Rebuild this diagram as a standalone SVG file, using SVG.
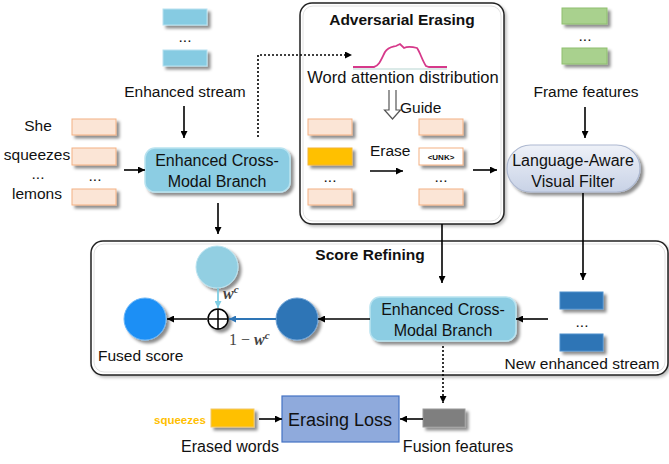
<svg xmlns="http://www.w3.org/2000/svg" width="669" height="464" viewBox="0 0 669 464">
<defs>
<filter id="sh" x="-30%" y="-30%" width="160%" height="170%">
<feDropShadow dx="3" dy="3" stdDeviation="1.4" flood-color="#000" flood-opacity="0.45"/>
</filter>
<filter id="shl" x="-10%" y="-10%" width="120%" height="120%">
<feDropShadow dx="2" dy="2" stdDeviation="1.5" flood-color="#000" flood-opacity="0.25"/>
</filter>
<linearGradient id="pill" x1="0" y1="0" x2="0" y2="1">
<stop offset="0" stop-color="#eef1f8"/>
<stop offset="1" stop-color="#c8d2e6"/>
</linearGradient>
<marker id="ah" viewBox="0 0 10 10" refX="10" refY="5" markerWidth="7" markerHeight="7" markerUnits="userSpaceOnUse" orient="auto">
<path d="M0,0 L10,5 L0,10 z" fill="#000"/>
</marker>
<marker id="ahb" viewBox="0 0 10 10" refX="10" refY="5" markerWidth="7" markerHeight="7" markerUnits="userSpaceOnUse" orient="auto">
<path d="M0,0 L10,5 L0,10 z" fill="#2e75b6"/>
</marker>
<marker id="ahl" viewBox="0 0 10 10" refX="10" refY="5" markerWidth="7" markerHeight="7" markerUnits="userSpaceOnUse" orient="auto">
<path d="M0,0 L10,5 L0,10 z" fill="#7fcde3"/>
</marker>
</defs>
<style>
text{font-family:"Liberation Sans",Arial,sans-serif;fill:#111;}
.t{font-size:15.5px;}
.c{text-anchor:middle;}
.b{font-weight:bold;}
.m{font-family:"Liberation Serif",serif;fill:#444;}
.peach{fill:#fbe5d6;stroke:#f4b183;stroke-width:1;filter:url(#sh);}
.lb{fill:#86cbe2;stroke:#b7e2f0;stroke-width:1;filter:url(#sh);}
.gr{fill:#a9d18e;stroke:#8fbf6f;stroke-width:1;filter:url(#sh);}
.db{fill:#2e75b6;stroke:#4d8fcc;stroke-width:1;filter:url(#sh);}
.cont{fill:#fff;stroke:#222;stroke-width:1.5;filter:url(#shl);}
.ln{stroke:#000;stroke-width:1.6;fill:none;}
.dot{stroke:#000;stroke-width:1.6;fill:none;stroke-dasharray:2 2;}
</style>

<g id="adversarial-erasing">
<rect class="cont" x="300" y="3" width="204" height="221" rx="12"/>
<rect x="303" y="6" width="198" height="215" rx="10" fill="none" stroke="#e2e2e2" stroke-width="1"/>
<text class="t b c" x="402" y="25">Adversarial Erasing</text>
<line x1="353" y1="69" x2="447" y2="69" stroke="#cfe3e0" stroke-width="1.5"/>
<path d="M353,67 L374,67 C379,66 381,60 385,52 C388,47 392,47 396,46 L400,44 L404,48 C408,46 413,47 417,48 C420,52 422,60 426,66 L429,67 L447,67" fill="none" stroke="#d6398a" stroke-width="1.8"/>
<text class="t c" x="403" y="83" style="font-size:16.5px">Word attention distribution</text>
<path d="M389,90 L389,110 L384.5,110 L392.5,119 L400.5,110 L396,110 L396,90" fill="#fff" stroke="#555" stroke-width="1.2"/>
<text class="t" x="400" y="113">Guide</text>
<rect class="peach" x="308" y="119" width="44" height="16"/>
<rect x="308" y="148" width="44" height="17" fill="#ffc000" stroke="#f2b43a" filter="url(#sh)"/>
<text class="t c" x="330" y="182">...</text>
<rect class="peach" x="308" y="189" width="44" height="16"/>
<text class="t" x="370" y="156">Erase</text>
<line class="ln" x1="370" y1="171" x2="403" y2="171" marker-end="url(#ah)"/>
<rect class="peach" x="419" y="119" width="44" height="16"/>
<rect x="419" y="148" width="44" height="17" fill="#fff" stroke="#f4b183" filter="url(#sh)"/>
<text class="c b" x="441" y="160" style="font-size:8px">&lt;UNK&gt;</text>
<text class="t c" x="441" y="182">...</text>
<rect class="peach" x="419" y="189" width="44" height="16"/>
</g>

<g id="score-refining">
<rect class="cont" x="91" y="241" width="577" height="134" rx="12"/>
<rect x="94" y="244" width="571" height="128" rx="10" fill="none" stroke="#e2e2e2" stroke-width="1"/>
<text class="t b c" x="370" y="260">Score Refining</text>
</g>

<g id="enhanced-stream">
<rect class="lb" x="163" y="9" width="44" height="16"/>
<text class="t c" x="185" y="42">...</text>
<rect class="lb" x="163" y="50" width="44" height="16"/>
<text class="t c" x="185" y="97">Enhanced stream</text>
</g>

<g id="words">
<text class="t c" x="38" y="131">She</text>
<text class="t c" x="37" y="160">squeezes</text>
<text class="t c" x="38" y="179">...</text>
<text class="t c" x="37" y="199">lemons</text>
<rect class="peach" x="72" y="119" width="44" height="16"/>
<rect class="peach" x="72" y="148" width="44" height="17"/>
<text class="t c" x="95" y="181">...</text>
<rect class="peach" x="72" y="189" width="44" height="16"/>
</g>

<g id="branch1">
<rect x="145" y="148" width="145" height="44" rx="10" fill="#8ccde3" stroke="#b9e3f0" stroke-width="1.5" filter="url(#sh)"/>
<text class="t c" x="217" y="166" style="font-size:16px">Enhanced Cross-</text>
<text class="t c" x="217" y="187" style="font-size:16px">Modal Branch</text>
</g>

<g id="frame-features">
<rect class="gr" x="562" y="8" width="45" height="16"/>
<text class="t c" x="585" y="41">...</text>
<rect class="gr" x="562" y="48" width="45" height="16"/>
<text class="t c" x="586" y="97">Frame features</text>
</g>

<g id="visual-filter">
<rect x="507" y="145" width="133" height="47" rx="23.5" fill="url(#pill)" stroke="#aeb9d1" stroke-width="1.2" filter="url(#sh)"/>
<text class="t c" x="573" y="166" style="font-size:16px">Language-Aware</text>
<text class="t c" x="573" y="187" style="font-size:16px">Visual Filter</text>
</g>

<g id="branch2">
<rect x="370" y="297" width="146" height="44" rx="10" fill="#8ccde3" stroke="#b9e3f0" stroke-width="1.5" filter="url(#sh)"/>
<text class="t c" x="443" y="315" style="font-size:16px">Enhanced Cross-</text>
<text class="t c" x="443" y="336" style="font-size:16px">Modal Branch</text>
</g>

<g id="new-enhanced-stream">
<rect class="db" x="560" y="292" width="43" height="17"/>
<text class="t c" x="582" y="327">...</text>
<rect class="db" x="560" y="334" width="43" height="17"/>
<text class="t c" x="582" y="369">New enhanced stream</text>
</g>

<g id="score-circles">
<circle cx="217" cy="267" r="21" fill="#92cfe2" stroke="#b8e2ef" filter="url(#sh)"/>
<circle cx="297" cy="319" r="21" fill="#2e75b6" stroke="#6fa3d6" filter="url(#sh)"/>
<circle cx="145" cy="319" r="21" fill="#1e8ff5" stroke="#69b5f7" filter="url(#sh)"/>
<text class="t" x="98" y="361">Fused score</text>
<g id="plus">
<circle cx="218" cy="319" r="10" fill="#fff" stroke="#000" stroke-width="1.5" filter="url(#sh)"/>
<line x1="208" y1="319" x2="228" y2="319" stroke="#000" stroke-width="1.5"/>
<line x1="218" y1="309" x2="218" y2="329" stroke="#000" stroke-width="1.5"/>
</g>
<text class="m" x="223" y="299" style="font-size:16px;font-weight:bold;font-style:italic">w<tspan dy="-6" style="font-size:11px">c</tspan></text>
<text class="m" x="229" y="345" style="font-size:16px">1 − <tspan style="font-weight:bold;font-style:italic">w</tspan><tspan dy="-6" style="font-size:11px;font-weight:bold;font-style:italic">c</tspan></text>
</g>

<g id="erasing-loss">
<rect x="282" y="396" width="117" height="46" fill="#8faadc" stroke="#4472c4" stroke-width="1.2"/>
<text class="c" x="340" y="426" style="font-size:18px">Erasing Loss</text>
</g>

<g id="erased-words">
<text class="b" x="154" y="424" style="font-size:11.5px;fill:#ffc000">squeezes</text>
<rect x="211" y="409" width="43" height="18" fill="#ffc000" stroke="#f2c86a" filter="url(#sh)"/>
<text class="t c" x="230" y="452" style="font-size:16px">Erased words</text>
</g>

<g id="fusion-features">
<rect x="423" y="409" width="42" height="18" fill="#7f7f7f" stroke="#9a9a9a" filter="url(#sh)"/>
<text class="t c" x="458" y="452" style="font-size:16px">Fusion features</text>
</g>

<g id="connectors">
<line class="ln" x1="184" y1="106" x2="184" y2="138" marker-end="url(#ah)"/>
<line class="ln" x1="124" y1="170" x2="145" y2="170" marker-end="url(#ah)"/>
<polyline class="dot" points="258,137 258,55 352,55" marker-end="url(#ah)"/>
<line class="ln" x1="218" y1="203" x2="218" y2="234" marker-end="url(#ah)"/>
<line class="ln" x1="473" y1="170" x2="497" y2="170" marker-end="url(#ah)"/>
<line class="ln" x1="585" y1="107" x2="585" y2="138" marker-end="url(#ah)"/>
<line class="ln" x1="442" y1="224" x2="442" y2="283" marker-end="url(#ah)"/>
<line class="ln" x1="583" y1="193" x2="583" y2="280" marker-end="url(#ah)"/>
<line class="ln" x1="548" y1="319" x2="516" y2="319" marker-end="url(#ah)"/>
<line class="ln" x1="370" y1="319" x2="318" y2="319" marker-end="url(#ah)"/>
<line x1="276" y1="319" x2="229" y2="319" stroke="#2e75b6" stroke-width="1.8" marker-end="url(#ahb)"/>
<line x1="218" y1="288" x2="218" y2="308" stroke="#7fcde3" stroke-width="1.8" marker-end="url(#ahl)"/>
<line class="ln" x1="207" y1="319" x2="167" y2="319" marker-end="url(#ah)"/>
<line class="dot" x1="443" y1="346" x2="443" y2="403" marker-end="url(#ah)"/>
<line class="ln" x1="259" y1="419" x2="282" y2="419" marker-end="url(#ah)"/>
<line class="ln" x1="423" y1="419" x2="400" y2="419" marker-end="url(#ah)"/>
</g>
</svg>
